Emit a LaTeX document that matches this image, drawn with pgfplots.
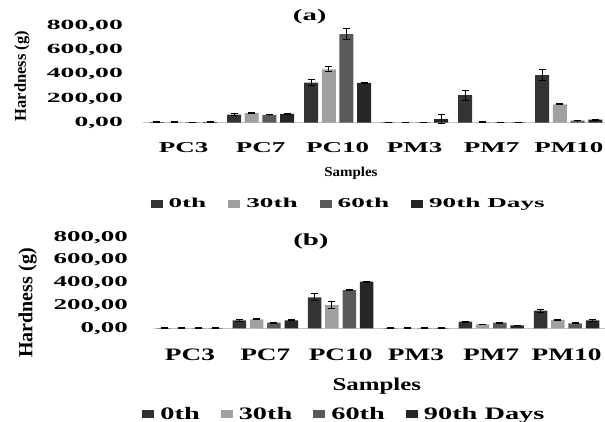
\documentclass[border=0pt]{standalone}
\usepackage{fontspec}
\setmainfont{Liberation Serif}
\usepackage{pgfplots}
\pgfplotsset{compat=1.18}
\usepackage{pgfplotstable}
\definecolor{c0}{HTML}{333333}
\definecolor{c30}{HTML}{A0A0A0}
\definecolor{c60}{HTML}{5A5A5A}
\definecolor{c90}{HTML}{262626}
\definecolor{axgray}{HTML}{C4C4C4}
\newcommand{\sx}[3]{\scalebox{#1}[1]{\fontsize{#2}{#2}\selectfont\bfseries #3}}

% panel (a)
\pgfplotstableread{
x y0 e0 y30 e30 y60 e60 y90 e90
0 5 2 5 2 2 1 5 2
1 66 8 80 8 65 1 72 6
2 330 27 440 20 731 45 329 6
3 3 1 3 1 3 1 30 38
4 228 41 5 2 3 1 3 1
5 393 47 152 6 17 2 25 5
}\dataA
% panel (b)
\pgfplotstableread{
x y0 e0 y30 e30 y60 e60 y90 e90
0 2 1 2 1 2 1 2 1
1 70 8 79 6 49 4 70 5
2 272 30 204 30 336 5 410 5
3 2 1 2 1 2 1 2 1
4 58 4 35 2 49 4 26 3
5 155 12 73 8 44 4 70 8
}\dataB

\pgfplotsset{
  hard/.style={
    scale only axis, ybar, clip=false, enlargelimits=false,
    ymin=0, ymax=800, ytick={0,200,400,600,800},
    xtick={0,1,2,3,4,5},
    axis x line*=bottom, axis y line*=left,
    y axis line style={draw=none},
    x axis line style={axgray, line width=1.3pt},
    major tick length=0pt,
    yticklabel style={anchor=east, inner sep=0pt},
    xticklabel style={anchor=base, inner sep=0pt},
    legend columns=4,
  },
  bb/.style={draw=none,
    legend image code/.code={\fill[##1,draw=none] (0pt,-4pt) rectangle (12pt,4pt);},
    error bars/.cd, y dir=both, y explicit,
    error bar style={black, line width=1pt},
    error mark options={rotate=90, mark size=3.5pt, line width=1pt, black}},
}

\begin{document}
\begin{tikzpicture}
\path[use as bounding box] (0pt,0pt) rectangle (605pt,-422pt);

% ---------- (a)
\begin{axis}[hard,
  at={(143pt,-122.7pt)}, anchor=south west,
  width=462pt, height=97pt,
  xmin=-0.526, xmax=5.47,
  bar width=14pt, ybar=3.7pt,
  yticklabels={\sx{1.97}{14}{0,00},\sx{1.97}{14}{200,00},\sx{1.97}{14}{400,00},\sx{1.97}{14}{600,00},\sx{1.97}{14}{800,00}},
  yticklabel style={xshift=-20pt},
  xticklabels={\sx{1.8}{15}{PC3},\sx{1.8}{15}{PC7},\sx{1.8}{15}{PC10},\sx{1.8}{15}{PM3},\sx{1.8}{15}{PM7},\sx{1.8}{15}{PM10}},
  xticklabel style={yshift=-30.3pt},
  title={\sx{1.8}{16}{(a)}},
  title style={at={(axis description cs:0.361,1.035)}, anchor=center, inner sep=0pt},
  xlabel={\sx{1.1}{13.6}{Samples}},
  xlabel style={at={(axis description cs:0.45,0)}, anchor=base, yshift=-54.3pt, inner sep=0pt},
  ylabel={\fontsize{16.5}{16.5}\selectfont\bfseries Hardness (g)},
  ylabel style={at={(axis description cs:-0.262,0.481)}, xshift=0pt, yshift=0pt, anchor=center, inner sep=0pt},
  legend style={draw=none, fill=none, at={(axis description cs:0.443,-0.838)}, anchor=center,
    nodes={inner sep=0pt},
    /tikz/every odd column/.append style={column sep=6pt},
    /tikz/every even column/.append style={column sep=22pt}},
]
\addplot[fill=c0, bb] table[x=x, y=y0, y error=e0]{\dataA};
\addlegendentry{\sx{2}{13.6}{0th}}
\addplot[fill=c30, bb] table[x=x, y=y30, y error=e30]{\dataA};
\addlegendentry{\sx{2}{13.6}{30th}}
\addplot[fill=c60, bb] table[x=x, y=y60, y error=e60]{\dataA};
\addlegendentry{\sx{2}{13.6}{60th}}
\addplot[fill=c90, bb] table[x=x, y=y90, y error=e90]{\dataA};
\addlegendentry{\sx{2}{13.6}{90th Days}}
\end{axis}

% ---------- (b)
\begin{axis}[hard,
  at={(154pt,-328.3pt)}, anchor=south west,
  width=451pt, height=91pt,
  xmin=-0.478, xmax=5.51,
  bar width=13.5pt, ybar=3.8pt,
  yticklabels={\sx{1.8}{15}{0,00},\sx{1.8}{15}{200,00},\sx{1.8}{15}{400,00},\sx{1.8}{15}{600,00},\sx{1.8}{15}{800,00}},
  yticklabel style={xshift=-26pt},
  xticklabels={\sx{1.56}{17.5}{PC3},\sx{1.56}{17.5}{PC7},\sx{1.56}{17.5}{PC10},\sx{1.56}{17.5}{PM3},\sx{1.56}{17.5}{PM7},\sx{1.56}{17.5}{PM10}},
  xticklabel style={yshift=-31.7pt},
  title={\sx{1.7}{17}{(b)}},
  title style={at={(axis description cs:0.348,0.893)}, anchor=center, inner sep=0pt},
  xlabel={\sx{1.38}{18}{Samples}},
  xlabel style={at={(axis description cs:0.494,0)}, anchor=base, yshift=-61.7pt, inner sep=0pt},
  ylabel={\fontsize{20}{20}\selectfont\bfseries Hardness (g)},
  ylabel style={at={(axis description cs:-0.28,0.278)}, xshift=0pt, yshift=0pt, anchor=center, inner sep=0pt},
  legend style={draw=none, fill=none, at={(axis description cs:0.42,-0.942)}, anchor=center,
    nodes={inner sep=0pt},
    /tikz/every odd column/.append style={column sep=6pt},
    /tikz/every even column/.append style={column sep=21pt}},
]
\addplot[fill=c0, bb] table[x=x, y=y0, y error=e0]{\dataB};
\addlegendentry{\sx{1.62}{17.5}{0th}}
\addplot[fill=c30, bb] table[x=x, y=y30, y error=e30]{\dataB};
\addlegendentry{\sx{1.62}{17.5}{30th}}
\addplot[fill=c60, bb] table[x=x, y=y60, y error=e60]{\dataB};
\addlegendentry{\sx{1.62}{17.5}{60th}}
\addplot[fill=c90, bb] table[x=x, y=y90, y error=e90]{\dataB};
\addlegendentry{\sx{1.62}{17.5}{90th Days}}
\end{axis}
\end{tikzpicture}
\end{document}
